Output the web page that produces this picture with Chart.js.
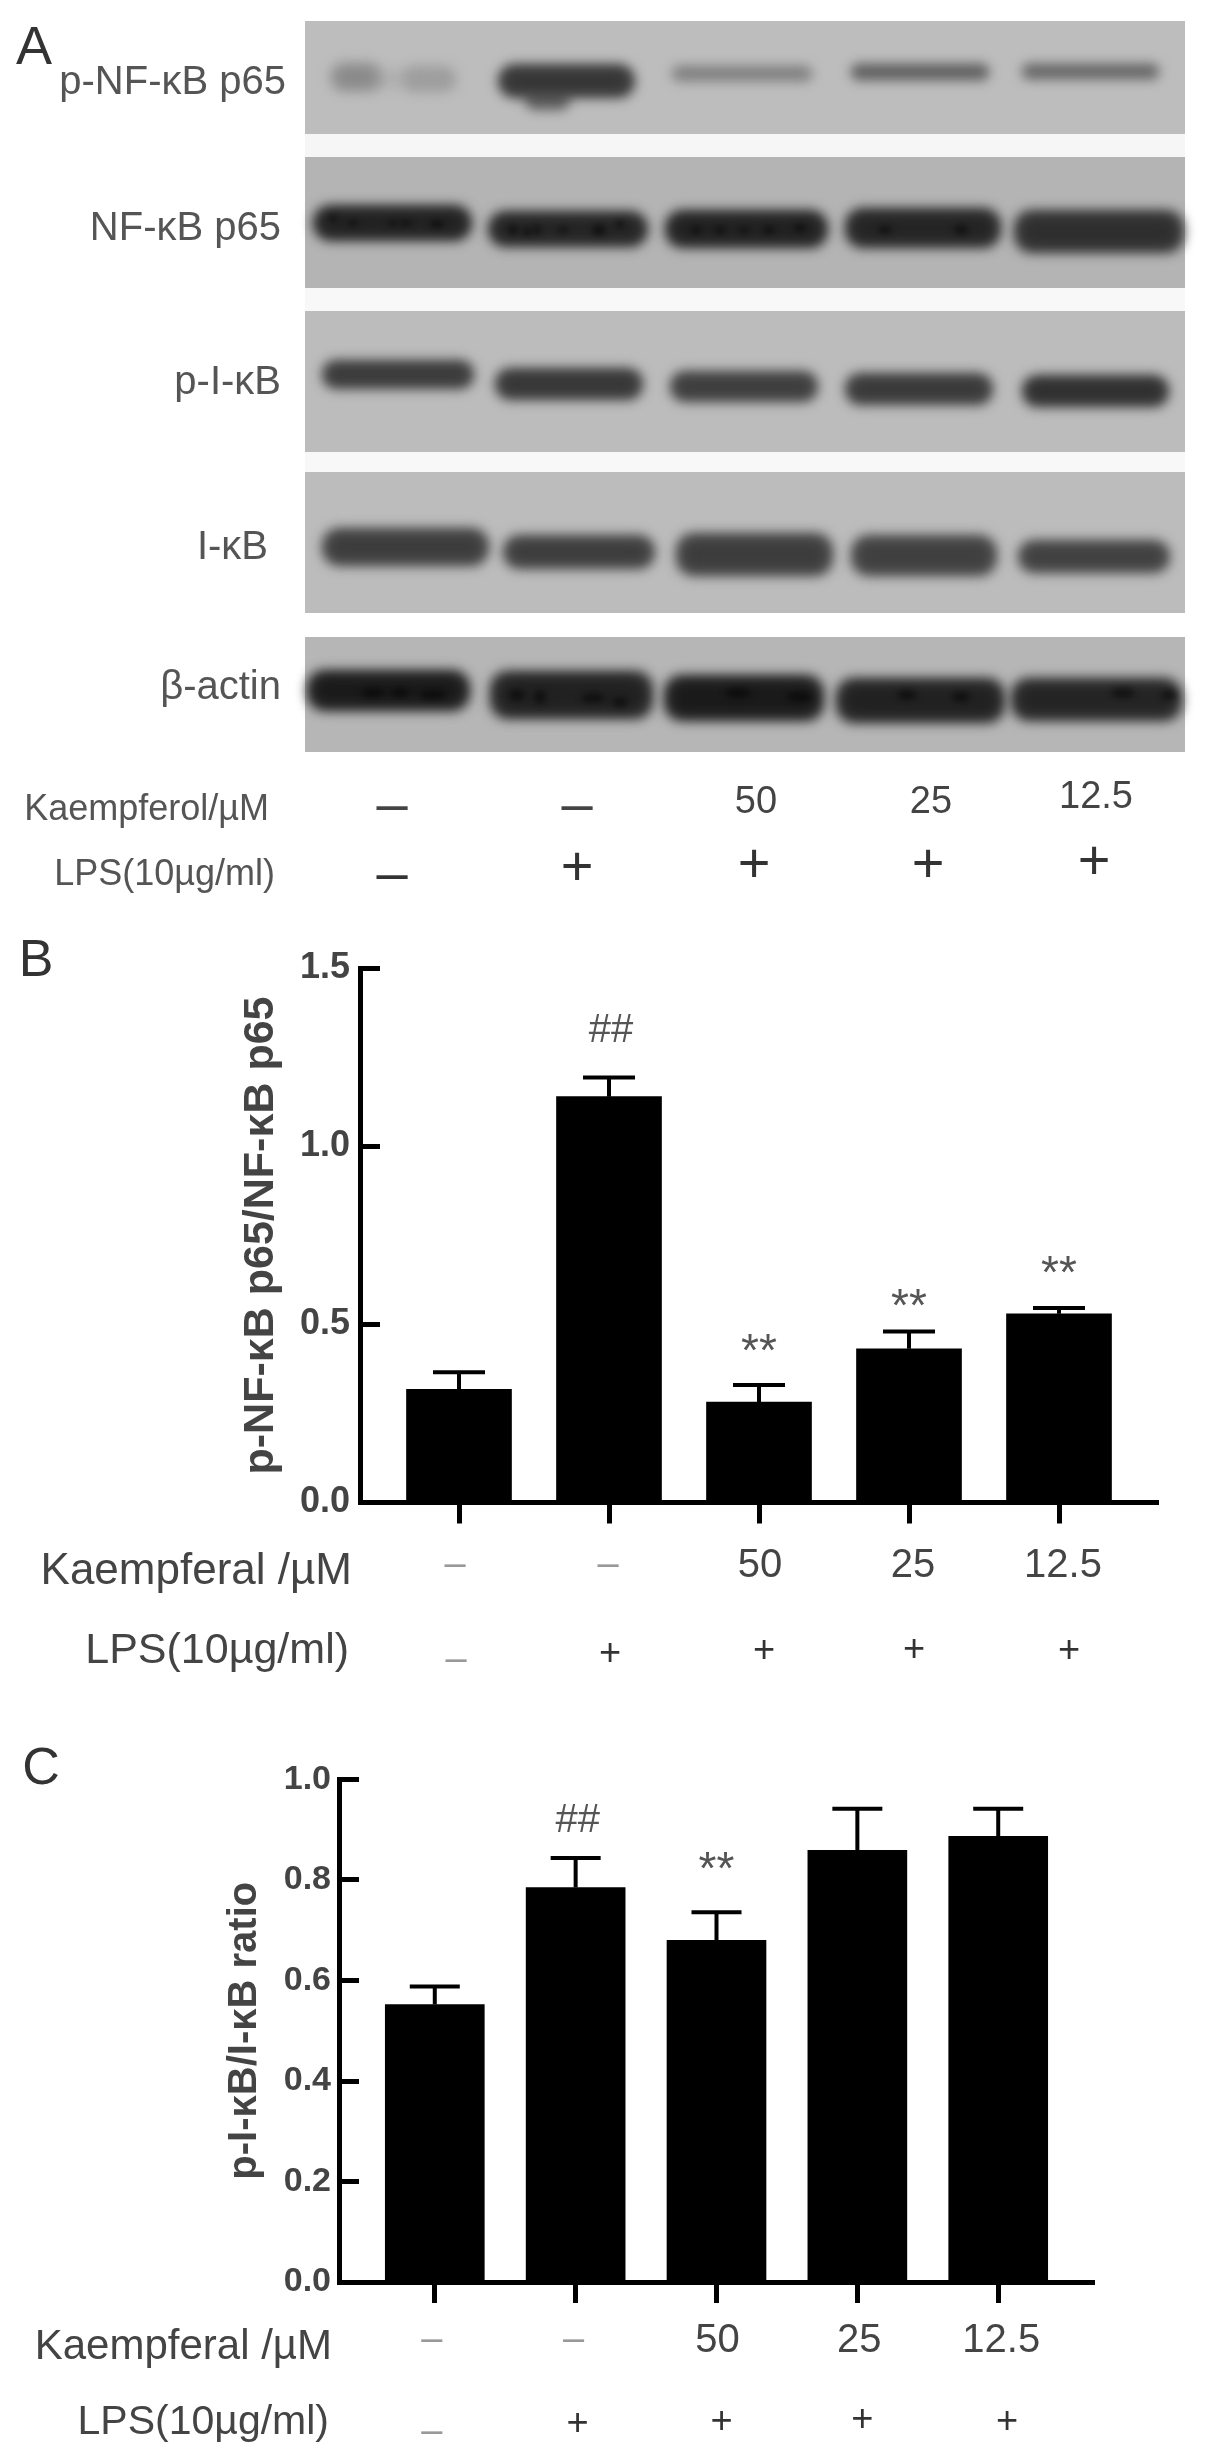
<!DOCTYPE html>
<html>
<head>
<meta charset="utf-8">
<title>Kaempferol western blot</title>
<script src="https://cdn.jsdelivr.net/npm/chart.js@4"></script>
<style>
  html, body { margin: 0; padding: 0; background: #fff; }
  canvas { position: absolute; left: 0; filter: blur(0.7px); }
</style>
</head>
<body>
<canvas id="panelA" width="1205" height="930" style="top:0"></canvas>
<canvas id="panelB" width="1205" height="800" style="top:900px"></canvas>
<canvas id="panelC" width="1205" height="763" style="top:1700px"></canvas>
<script>
// data
var doseRow = ['–', '–', '50', '25', '12.5']
var lpsRow = ['–', '+', '+', '+', '+']

var pNfkbMeans = [0.318, 1.14, 0.282, 0.432, 0.53]
var pNfkbErrTops = [0.366, 1.194, 0.33, 0.48, 0.546]
var pNfkbMarks = ['', '##', '**', '**', '**']
var pNfkbMarkValues = [0, 1.333, 0.452, 0.576, 0.67]

var pIkbMeans = [0.552, 0.785, 0.68, 0.859, 0.887]
var pIkbErrTops = [0.588, 0.844, 0.736, 0.942, 0.942]
var pIkbMarks = ['', '##', '**', '', '']
var pIkbMarkValues = [0, 0.924, 0.84, 0, 0]

// band darkness per lane, 0 = nothing, 1 = black
var bandPNfkb = [0.22, 0.7, 0.35, 0.55, 0.5]
var bandNfkb = [0.82, 0.8, 0.82, 0.8, 0.74]
var bandPIkb = [0.68, 0.7, 0.66, 0.68, 0.74]
var bandIkb = [0.66, 0.66, 0.66, 0.64, 0.64]
var bandActin = [0.86, 0.82, 0.86, 0.82, 0.8]

var stripNames = ['p-NF-κB p65', 'NF-κB p65', 'p-I-κB', 'I-κB', 'β-actin']

var SANS = '"Liberation Sans", Arial, sans-serif'

function put_text(ctx, text, x, y, font, color, align, baseline){
    ctx.save()
    ctx.font = font
    ctx.fillStyle = color
    ctx.textAlign = align || 'center'
    ctx.textBaseline = baseline || 'middle'
    ctx.fillText(text, x, y)
    ctx.restore()
}

function gray(level){
    var v = Math.max(0, Math.round(level))
    return 'rgb(' + v + ',' + v + ',' + v + ')'
}

// ---- panel A, the blot -------------------------------------------------

// strip boxes and band boxes, in px of the panel
var strips = [
    {top: 21, bottom: 134, color: '#bdbdbd', gap: '#f6f6f6', labelRight: 286, labelY: 83},
    {top: 157, bottom: 288, color: '#b4b4b4', gap: '#f8f8f8', labelRight: 281, labelY: 229},
    {top: 311, bottom: 452, color: '#bcbcbc', gap: '#f8f8f8', labelRight: 281, labelY: 383},
    {top: 472, bottom: 613, color: '#bcbcbc', gap: '#ffffff', labelRight: 268, labelY: 548},
    {top: 637, bottom: 752, color: '#b6b6b6', gap: '#ffffff', labelRight: 281, labelY: 688}
]
var stripBands = [bandPNfkb, bandNfkb, bandPIkb, bandIkb, bandActin]
var bandBoxes = [
    [[330, 382, 62, 92], [498, 635, 64, 98], [672, 812, 66, 81], [851, 989, 64, 80], [1022, 1159, 64, 79]],
    [[313, 472, 205, 241], [488, 648, 211, 247], [665, 828, 210, 248], [845, 1001, 208, 248], [1014, 1184, 210, 253]],
    [[322, 474, 360, 389], [495, 643, 368, 400], [670, 818, 371, 402], [845, 993, 373, 405], [1022, 1169, 375, 407]],
    [[322, 489, 528, 566], [503, 655, 535, 569], [676, 833, 533, 576], [851, 997, 535, 576], [1018, 1170, 540, 573]],
    [[307, 470, 670, 711], [490, 653, 671, 719], [664, 824, 675, 721], [836, 1005, 678, 723], [1011, 1182, 678, 721]]
]
// lane 1 of the first strip is two faint lobes, lane 2 has a smear under it
var extraBands = [
    {box: [403, 456, 66, 92], level: 158},
    {box: [370, 415, 70, 88], level: 176},
    {box: [525, 570, 88, 110], level: 98}
]
// the dark grain inside the heavy bands: x, y, half width, half height
var grain = [
    [437, 224, 7, 4], [406, 223, 6, 3], [393, 223, 5, 3], [333, 218, 5, 3], [353, 223, 5, 3],
    [599, 230, 7, 6], [513, 230, 5, 5], [527, 232, 4, 5], [537, 230, 4, 5], [563, 230, 6, 3], [620, 224, 5, 4],
    [696, 230, 5, 4], [720, 230, 5, 4], [744, 230, 5, 3], [769, 230, 6, 4], [800, 228, 6, 4], [885, 230, 7, 4], [961, 230, 7, 5],
    [373, 693, 12, 5], [400, 693, 10, 5], [433, 695, 14, 5], [517, 695, 8, 6], [540, 697, 6, 7], [593, 698, 12, 5], [620, 702, 8, 5],
    [738, 693, 13, 5], [800, 697, 13, 5], [907, 695, 10, 5], [961, 697, 9, 5], [1123, 693, 12, 5], [1169, 695, 8, 5]
]

function band_dataset(box, color, inset){
    var w = box[1] - box[0] - inset * 2
    return {
        data: [{x: (box[0] + box[1]) / 2, y: [box[2] + inset, box[3] - inset]}],
        backgroundColor: color,
        barThickness: w,
        grouped: false,
        borderRadius: 18,
        borderSkipped: false
    }
}

function blot_datasets(){
    var out = []
    bandBoxes.forEach(function(row, s){
        row.forEach(function(box, l){
            var level = 190 - stripBands[s][l] * 170
            // first dataset is painted last, so the core goes first
            out.push(band_dataset(box, gray(level - 18), 8))
            out.push(band_dataset(box, gray(level), 0))
        })
    })
    extraBands.forEach(function(b){
        out.push(band_dataset(b.box, gray(b.level), 0))
    })
    return out
}

var blotPlugin = {
    id: 'blot',
    beforeDatasetsDraw: function(chart){
        var ctx = chart.ctx
        var x = chart.scales.x
        var y = chart.scales.y
        strips.forEach(function(s){
            ctx.fillStyle = s.gap
            ctx.fillRect(x.getPixelForValue(305), y.getPixelForValue(s.bottom), 880, 24)
        })
        strips.forEach(function(s){
            ctx.fillStyle = s.color
            ctx.fillRect(x.getPixelForValue(305), y.getPixelForValue(s.top), 880, s.bottom - s.top)
        })
        ctx.save()
        ctx.filter = 'blur(6px)'
    },
    afterDatasetsDraw: function(chart){
        var ctx = chart.ctx
        ctx.restore()

        ctx.save()
        ctx.filter = 'blur(3px)'
        ctx.fillStyle = 'rgba(0,0,0,0.5)'
        grain.forEach(function(g){
            ctx.beginPath()
            ctx.ellipse(g[0], g[1], g[2], g[3], 0, 0, Math.PI * 2)
            ctx.fill()
        })
        ctx.restore()

        put_text(ctx, 'A', 34, 49, '54px ' + SANS, '#333')
        stripNames.forEach(function(name, i){
            put_text(ctx, name, strips[i].labelRight, strips[i].labelY, '40px ' + SANS, '#555', 'right')
        })

        put_text(ctx, 'Kaempferol/µM', 269, 810, '36px ' + SANS, '#555', 'right')
        put_text(ctx, 'LPS(10µg/ml)', 275, 875, '36px ' + SANS, '#555', 'right')

        var doseX = [392, 577, 756, 931, 1096]
        var doseY = [807, 807, 803, 803, 798]
        var lpsX = [392, 577, 754, 928, 1094]
        var lpsY = [876, 870, 867, 867, 864]
        doseRow.forEach(function(t, i){
            var f = t == '–' ? '56px ' : '38px '
            put_text(ctx, t, doseX[i], doseY[i], f + SANS, '#444')
        })
        lpsRow.forEach(function(t, i){
            put_text(ctx, t, lpsX[i], lpsY[i], '56px ' + SANS, '#333')
        })
    }
}

new Chart(document.getElementById('panelA').getContext('2d'), {
    type: 'bar',
    data: {datasets: blot_datasets()},
    plugins: [blotPlugin],
    options: {
        responsive: false,
        animation: false,
        plugins: {legend: {display: false}, tooltip: {enabled: false}},
        scales: {
            x: {type: 'linear', display: false, offset: false, min: 0, max: 1205},
            y: {type: 'linear', display: false, min: 0, max: 930, reverse: true}
        }
    }
})

// ---- panels B and C, the bar charts -------------------------------------

function bar_panel(cfg){
    var errorBars = {
        id: 'errorBars',
        afterDatasetsDraw: function(chart){
            var ctx = chart.ctx
            var x = chart.scales.x
            var y = chart.scales.y
            ctx.save()
            ctx.strokeStyle = '#000'
            ctx.lineWidth = 4
            cfg.means.forEach(function(m, i){
                var px = x.getPixelForValue(i)
                var top = y.getPixelForValue(cfg.errTops[i])
                ctx.beginPath()
                ctx.moveTo(px, y.getPixelForValue(m))
                ctx.lineTo(px, top)
                ctx.moveTo(px - cfg.capHalf, top)
                ctx.lineTo(px + cfg.capHalf, top)
                ctx.stroke()
            })
            ctx.restore()

            cfg.marks.forEach(function(t, i){
                if(!t) return
                var py = y.getPixelForValue(cfg.markValues[i])
                var px = x.getPixelForValue(i)
                if(t == '##'){
                    put_text(ctx, t, px + 2, py + 14, '40px ' + SANS, '#555', 'center', 'alphabetic')
                }else{
                    put_text(ctx, t, px, py + 24, '46px ' + SANS, '#555', 'center', 'alphabetic')
                }
            })

            put_text(ctx, cfg.letter, cfg.letterX, cfg.letterY, '52px ' + SANS, '#333')
            put_text(ctx, 'Kaempferal /µM', cfg.rowRight, cfg.doseY + 6, cfg.rowFont + 'px ' + SANS, '#444', 'right')
            put_text(ctx, 'LPS(10µg/ml)', cfg.rowRight - 3, cfg.lpsY - 2, (cfg.rowFont - 1) + 'px ' + SANS, '#444', 'right')

            doseRow.forEach(function(t, i){
                var px = x.getPixelForValue(i) + cfg.doseDx[i]
                if(t == '–'){
                    put_text(ctx, t, px, cfg.doseY, '38px ' + SANS, '#999')
                }else{
                    put_text(ctx, t, px, cfg.doseY, '40px ' + SANS, '#444')
                }
            })
            lpsRow.forEach(function(t, i){
                var px = x.getPixelForValue(i) + cfg.lpsDx[i]
                if(t == '–'){
                    put_text(ctx, t, px, cfg.lpsY + 8, '38px ' + SANS, '#999')
                }else{
                    put_text(ctx, t, px, cfg.lpsY + cfg.lpsDy[i], '38px ' + SANS, '#333')
                }
            })
        }
    }

    return new Chart(document.getElementById(cfg.id).getContext('2d'), {
        type: 'bar',
        data: {
            datasets: [{
                data: cfg.means.map(function(v, i){ return {x: i, y: v} }),
                backgroundColor: '#000',
                barThickness: cfg.barWidth
            }]
        },
        plugins: [errorBars],
        options: {
            responsive: false,
            animation: false,
            layout: {padding: {top: cfg.padTop, right: cfg.padRight, bottom: 0, left: 0}},
            plugins: {legend: {display: false}, tooltip: {enabled: false}},
            scales: {
                x: {
                    type: 'linear',
                    offset: false,
                    min: -cfg.edge,
                    max: 4 + cfg.edge,
                    afterBuildTicks: function(scale){
                        scale.ticks = [0, 1, 2, 3, 4].map(function(v){ return {value: v} })
                    },
                    afterFit: function(scale){ scale.height = cfg.xHeight },
                    ticks: {display: false},
                    grid: {offset: false, drawOnChartArea: false, tickLength: 21, tickWidth: 5, tickColor: '#000'},
                    border: {color: '#000', width: 5}
                },
                y: {
                    min: 0,
                    max: cfg.yMax,
                    afterFit: function(scale){ scale.width = cfg.yWidth },
                    ticks: {
                        stepSize: cfg.yStep,
                        padding: cfg.tickPad,
                        color: '#444',
                        font: {family: SANS, size: cfg.tickFont, weight: 'bold'},
                        callback: function(v){ return v.toFixed(1) }
                    },
                    grid: {drawOnChartArea: false, tickLength: -20, tickWidth: 5, tickColor: '#000'},
                    border: {color: '#000', width: 5},
                    title: {
                        display: true,
                        text: cfg.yTitle,
                        color: '#444',
                        font: {family: SANS, size: cfg.titleFont, weight: 'bold'},
                        padding: {top: cfg.titlePad, bottom: 0}
                    }
                }
            }
        }
    })
}

bar_panel({
    id: 'panelB', letter: 'B', letterX: 36, letterY: 62,
    means: pNfkbMeans, errTops: pNfkbErrTops, marks: pNfkbMarks, markValues: pNfkbMarkValues,
    yMax: 1.5, yStep: 0.5, yTitle: 'p-NF-κB p65/NF-κB p65',
    yWidth: 360, xHeight: 197.5, padTop: 68.5, padRight: 47, edge: 0.66,
    barWidth: 105, capHalf: 26, tickPad: 30, tickFont: 36, titleFont: 43, titlePad: 235,
    rowRight: 352, rowFont: 44, doseY: 666, lpsY: 753,
    doseDx: [-4, -1, 1, 4, 4], lpsDx: [-3, 1, 5, 5, 10], lpsDy: [0, 2, -1, -2, -1]
})

bar_panel({
    id: 'panelC', letter: 'C', letterX: 41, letterY: 70,
    means: pIkbMeans, errTops: pIkbErrTops, marks: pIkbMarks, markValues: pIkbMarkValues,
    yMax: 1.0, yStep: 0.2, yTitle: 'p-I-κB/I-κB ratio',
    yWidth: 339, xHeight: 181, padTop: 79.5, padRight: 111, edge: 0.68,
    barWidth: 99, capHalf: 25, tickPad: 28, tickFont: 34, titleFont: 40, titlePad: 221,
    rowRight: 332, rowFont: 42, doseY: 641, lpsY: 725,
    doseDx: [-3, -2, 1, 2, 3], lpsDx: [-3, 2, 5, 5, 9], lpsDy: [0, 0, -2, -4, -2]
})
</script>
</body>
</html>
